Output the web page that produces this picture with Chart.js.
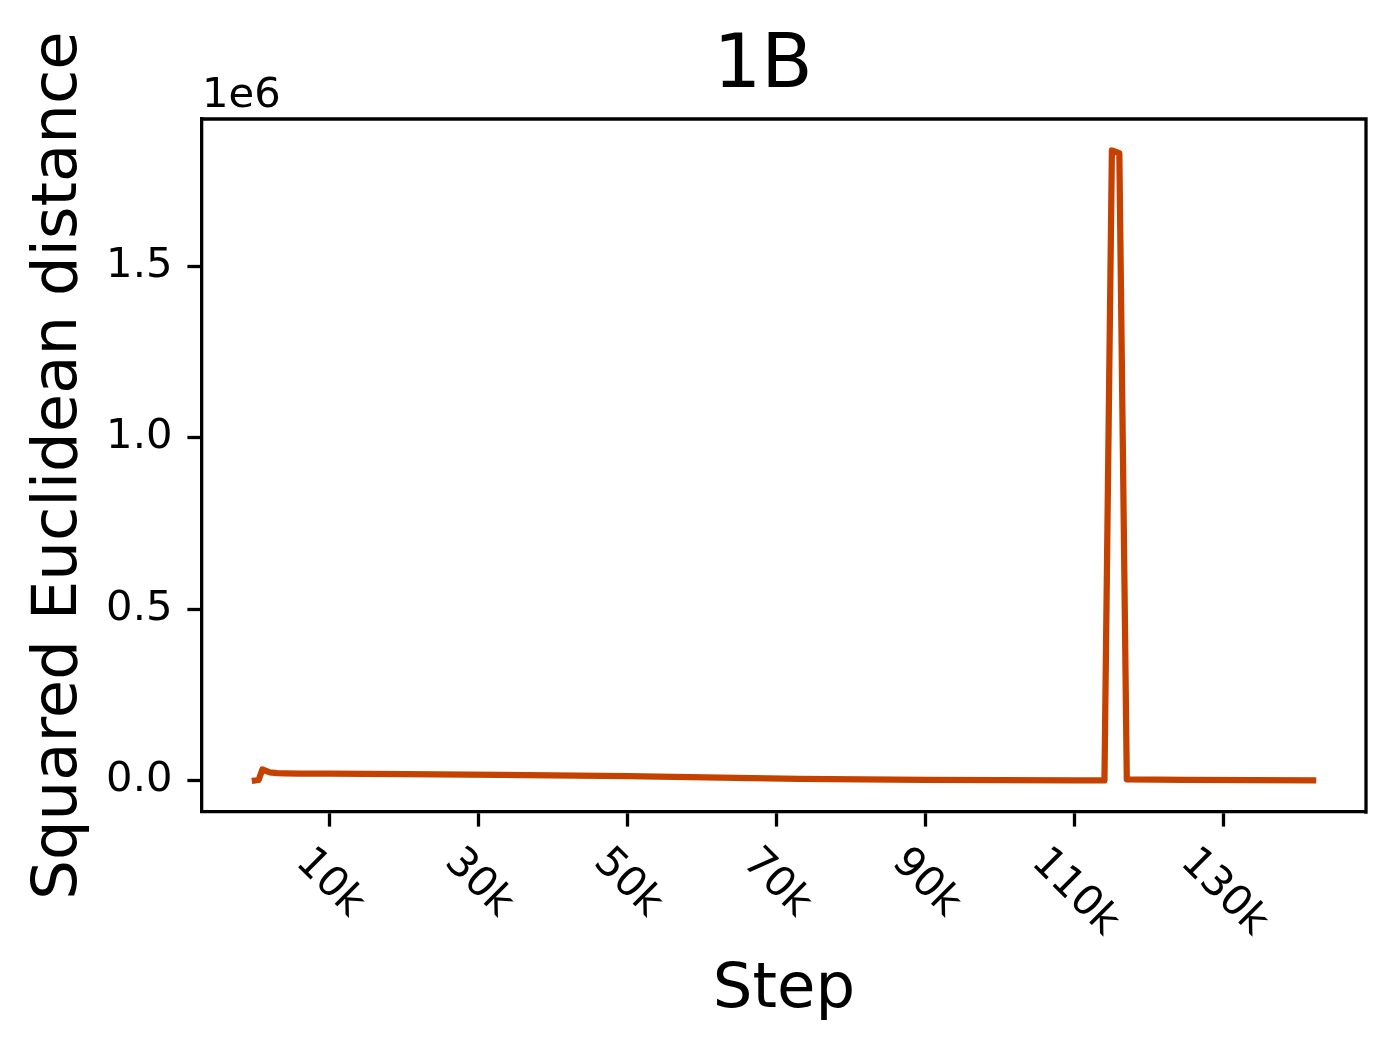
<!DOCTYPE html>
<html>
<head>
<meta charset="utf-8">
<script src="https://cdn.jsdelivr.net/npm/chart.js@4"></script>
<style>
  html, body { margin: 0; padding: 0; background: #ffffff; }
  #wrap { width: 1394px; height: 1051px; }
</style>
</head>
<body>
<div id="wrap"><canvas id="c" width="1394" height="1051"></canvas></div>
<script>
// ---- data ----
const steps = [0, 500, 1000, 2000, 3000, 4000, 6000, 10000, 20000, 33000, 50000, 73000, 90000, 100000, 110000, 114000, 115000, 116000, 117000, 125000, 142000];
const distance = [0, 1500, 32000, 23500, 21500, 20800, 20300, 19700, 18500, 16500, 12500, 4500, 1900, 800, 300, 200, 1837000, 1829000, 3500, 2000, 600];
const xTickValues = [10000, 30000, 50000, 70000, 90000, 110000, 130000];
const xTickLabels = ['10k', '30k', '50k', '70k', '90k', '110k', '130k'];
const yTickValues = [0, 500000, 1000000, 1500000];
const yTickLabels = ['0.0', '0.5', '1.0', '1.5'];
const titleText = '1B';
const xLabel = 'Step';
const yLabel = 'Squared Euclidean distance';
const offsetText = '1e6';

const FONT = '"DejaVu Sans", sans-serif';
const TICK_PX = 41.7;
const LABEL_PX = 62.5;
const TITLE_PX = 75;
const SPINE = 3.3;

Chart.defaults.font.family = FONT;

const decor = {
  id: 'decor',
  afterDraw(chart) {
    const ctx = chart.ctx;
    const a = chart.chartArea;
    const xs = chart.scales.x;
    ctx.save();
    // top & right spines
    ctx.strokeStyle = '#000';
    ctx.lineWidth = SPINE;
    ctx.beginPath();
    ctx.moveTo(a.left - SPINE / 2, a.top);
    ctx.lineTo(a.right, a.top);
    ctx.lineTo(a.right, a.bottom + SPINE / 2);
    ctx.stroke();

    ctx.fillStyle = '#000';
    // title
    ctx.font = TITLE_PX + 'px ' + FONT;
    ctx.textAlign = 'center';
    ctx.textBaseline = 'alphabetic';
    ctx.fillText(titleText, 763, 87);

    // offset text
    ctx.font = TICK_PX + 'px ' + FONT;
    ctx.textAlign = 'left';
    ctx.fillText(offsetText, a.left, 107);

    // x label
    ctx.font = LABEL_PX + 'px ' + FONT;
    ctx.textAlign = 'center';
    ctx.fillText(xLabel, (a.left + a.right) / 2, 1007);

    // y label
    ctx.save();
    ctx.translate(76, (a.top + a.bottom) / 2);
    ctx.rotate(-Math.PI / 2);
    ctx.textAlign = 'center';
    ctx.textBaseline = 'alphabetic';
    ctx.fillText(yLabel, 0, 0);
    ctx.restore();

    // rotated x tick labels (rotation -45deg, centered bbox under tick)
    ctx.font = TICK_PX + 'px ' + FONT;
    const h = TICK_PX * 1.0;
    const y0 = a.bottom + 14.6 + 14.6;
    xTickValues.forEach((v, i) => {
      const px = xs.getPixelForValue(v);
      const w = ctx.measureText(xTickLabels[i]).width;
      const d = (w + h) * Math.SQRT1_2;
      ctx.save();
      ctx.translate(px, y0 + d / 2);
      ctx.rotate(Math.PI / 4);
      ctx.textAlign = 'center';
      ctx.textBaseline = 'middle';
      ctx.fillText(xTickLabels[i], 0, 0);
      ctx.restore();
    });
    ctx.restore();
  }
};

const points = steps.map((s, i) => ({ x: s, y: distance[i] }));

new Chart(document.getElementById('c'), {
  type: 'line',
  data: {
    datasets: [{
      data: points,
      borderColor: '#c44100',
      backgroundColor: '#c44100',
      borderWidth: 6.25,
      pointRadius: 0,
      tension: 0,
      fill: false,
      borderCapStyle: 'square',
      borderJoinStyle: 'round'
    }]
  },
  options: {
    responsive: false,
    devicePixelRatio: 1,
    animation: false,
    events: [],
    layout: { padding: { left: 0, right: 28, top: 119, bottom: 0 } },
    plugins: { legend: { display: false }, tooltip: { enabled: false }, title: { display: false } },
    scales: {
      x: {
        type: 'linear',
        min: -7100,
        max: 149100,
        afterFit: s => { s.height = 1051 - 812; },
        afterBuildTicks: s => { s.ticks = xTickValues.map(v => ({ value: v })); },
        ticks: { color: 'rgba(0,0,0,0)', autoSkip: false, maxRotation: 0, minRotation: 0, font: { size: TICK_PX } },
        grid: { display: true, drawOnChartArea: false, drawTicks: true, tickLength: 14.6, tickWidth: SPINE, tickColor: '#000' },
        border: { display: true, color: '#000', width: SPINE }
      },
      y: {
        type: 'linear',
        min: -91850,
        max: 1928850,
        afterFit: s => { s.width = 202; },
        afterBuildTicks: s => { s.ticks = yTickValues.map(v => ({ value: v })); },
        ticks: {
          color: '#000',
          padding: 15,
          font: { size: TICK_PX },
          callback: (v) => { const i = yTickValues.indexOf(v); return i >= 0 ? yTickLabels[i] : ''; }
        },
        grid: { display: true, drawOnChartArea: false, drawTicks: true, tickLength: 14.6, tickWidth: SPINE, tickColor: '#000' },
        border: { display: true, color: '#000', width: SPINE }
      }
    }
  },
  plugins: [decor]
});
</script>
</body>
</html>
